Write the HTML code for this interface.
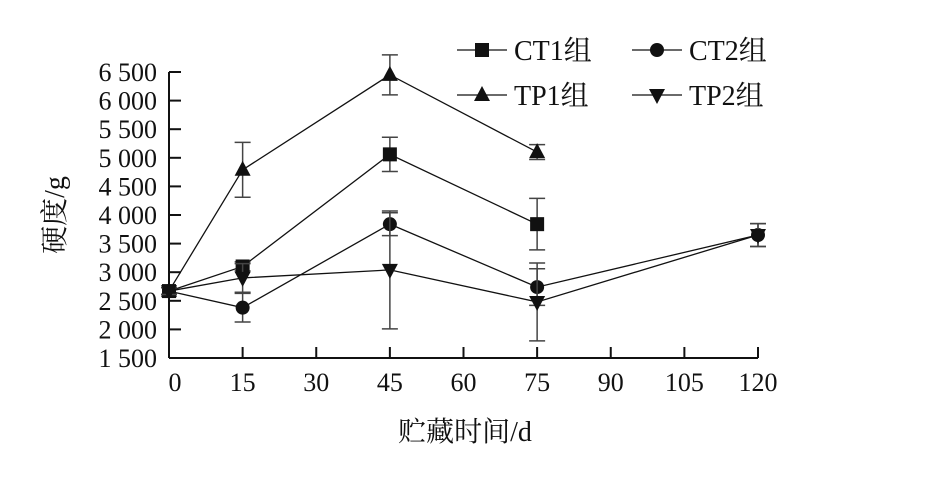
<!DOCTYPE html>
<html><head><meta charset="utf-8"><style>
body{margin:0;background:#fff;}
svg text{font-family:"Liberation Serif","Noto Serif CJK SC",serif;fill:#111;}
</style></head><body>
<svg id="chart" width="931" height="478"></svg>
<script>
const days=[0,15,45,75,120];
const xTicks=[0,15,30,45,60,75,90,105,120];
const yTicks=[1500,2000,2500,3000,3500,4000,4500,5000,5500,6000,6500];
const yTickLabels=["1 500","2 000","2 500","3 000","3 500","4 000","4 500","5 000","5 500","6 000","6 500"];
const ct1=[2670,3100,5060,3840,null];
const ct1Err=[60,80,300,450,0];
const ct2=[2670,2380,3840,2740,3650];
const ct2Err=[60,250,200,320,200];
const tp1=[2670,4790,6450,5100,null];
const tp1Err=[60,480,350,130,0];
const tp2=[2670,2900,3040,2480,3650];
const tp2Err=[60,250,1030,680,200];
const seriesNames=["CT1组","CT2组","TP1组","TP2组"];

const NS="http://www.w3.org/2000/svg";
const svg=document.getElementById('chart');
const X0=169,X1=758,Y0=358,Y1=72;
const xs=v=>X0+(v-0)/120*(X1-X0);
const ys=v=>Y0-(v-1500)/5000*(Y0-Y1);
function mk(tag,attrs,parent){const e=document.createElementNS(NS,tag);for(const k in attrs)e.setAttribute(k,attrs[k]);(parent||svg).appendChild(e);return e;}

const axes=mk('g',{});


mk('line',{x1:X0,y1:Y1,x2:X0,y2:Y0,stroke:'#111','stroke-width':2},axes);
mk('line',{x1:X0,y1:Y0,x2:X1,y2:Y0,stroke:'#111','stroke-width':2},axes);
yTicks.forEach((v,i)=>{
  mk('line',{x1:X0,y1:ys(v),x2:X0+12,y2:ys(v),stroke:'#111','stroke-width':2},axes);
  const t=mk('text',{x:157,y:ys(v)+9,'text-anchor':'end','font-size':26},axes);
  t.textContent=yTickLabels[i];
  
  
});
xTicks.forEach(v=>{
  mk('line',{x1:xs(v),y1:Y0,x2:xs(v),y2:Y0-11,stroke:'#111','stroke-width':2},axes);
  const t=mk('text',{x:xs(v)+(v===0?6:0),y:391,'text-anchor':'middle','font-size':26},axes);
  t.textContent=v;
  
  
});
const xt=mk('text',{x:465,y:441,'text-anchor':'middle','font-size':28});
xt.textContent='贮藏时间/d';


const yt=mk('text',{x:0,y:0,'text-anchor':'middle','font-size':28,transform:'translate(64,215) rotate(-90)'});
yt.textContent='硬度/g';



function marker(type,cx,cy,g){
  if(type==='sq')mk('rect',{x:cx-7,y:cy-7,width:14,height:14,fill:'#111'},g);
  else if(type==='ci')mk('circle',{cx:cx,cy:cy,r:7,fill:'#111'},g);
  else if(type==='up')mk('polygon',{points:`${cx},${cy-9} ${cx-8},${cy+6} ${cx+8},${cy+6}`,fill:'#111'},g);
  else mk('polygon',{points:`${cx},${cy+9} ${cx-8},${cy-6} ${cx+8},${cy-6}`,fill:'#111'},g);
}
const series=[[ct1,ct1Err,'sq','series-ct1'],[ct2,ct2Err,'ci','series-ct2'],[tp1,tp1Err,'up','series-tp1'],[tp2,tp2Err,'dn','series-tp2']];
series.forEach(([vals,errs,type,name])=>{
  const g=mk('g',{});
  
  
  const pts=[];
  vals.forEach((v,i)=>{if(v!==null)pts.push(xs(days[i])+','+ys(v));});
  mk('polyline',{points:pts.join(' '),fill:'none',stroke:'#111','stroke-width':1.3},g);
  vals.forEach((v,i)=>{
    if(v===null)return;
    const cx=xs(days[i]);
    if(errs[i]>0){
      const t=ys(v+errs[i]),b=ys(v-errs[i]);
      mk('path',{d:`M${cx},${t}V${b}M${cx-8},${t}H${cx+8}M${cx-8},${b}H${cx+8}`,stroke:'#444','stroke-width':1.5,fill:'none'},g);
    }
    marker(type,cx,ys(v),g);
  });
});
const legendPos=[[457,50,'sq'],[632,50,'ci'],[457,95,'up'],[632,95,'dn']];
legendPos.forEach(([x,y,type],i)=>{
  const g=mk('g',{});
  
  
  mk('line',{x1:x,y1:y,x2:x+50,y2:y,stroke:'#111','stroke-width':1.3},g);
  marker(type,x+25,y,g);
  const t=mk('text',{x:x+57,y:y+10,'font-size':28},g);
  t.textContent=seriesNames[i];
});
</script>
</body></html>
